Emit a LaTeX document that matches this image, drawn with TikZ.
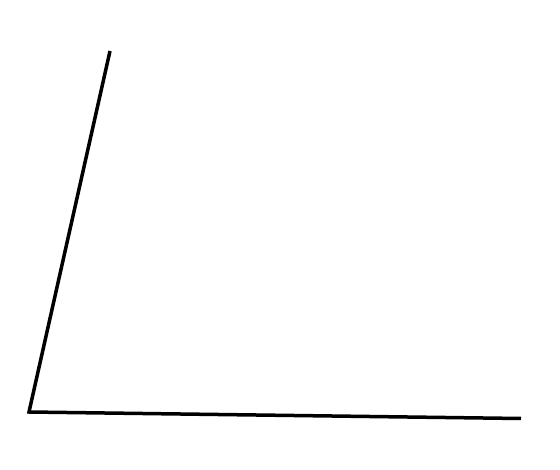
\documentclass[tikz,border=0pt]{standalone}
\begin{document}
\begin{tikzpicture}[x=1pt,y=-1pt,edge/.style={line width=3.5pt,black,line join=miter}]
\useasboundingbox[fill=white] (0,0) rectangle (560,470);
\coordinate (top) at (110,51);
\coordinate (v) at (29,412);
\coordinate (r) at (521,418.5);
\draw[edge] (top) -- (v) -- (r);
\end{tikzpicture}
\end{document}
